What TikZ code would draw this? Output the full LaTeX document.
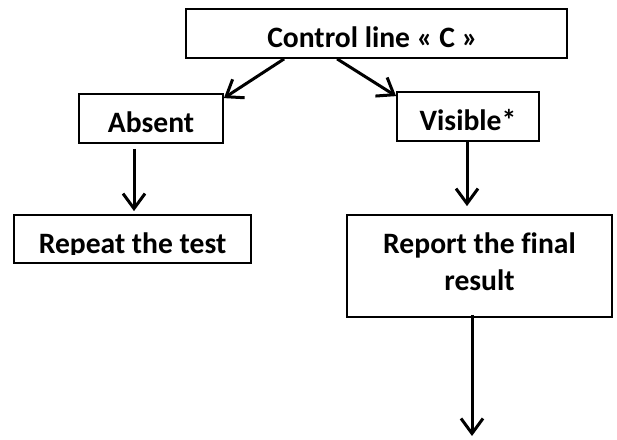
\documentclass[tikz,border=0pt]{standalone}
\usepackage{fontspec}
\setmainfont[Ligatures=NoCommon]{Carlito}
\usetikzlibrary{arrows.meta,calc}
\tikzset{
  box/.style={draw, line width=1.8pt, inner sep=0pt, font=\fontsize{29.6}{37}\selectfont\bfseries},
  oneline/.style={text height=28pt, text depth=0pt},
  arr/.style={line width=3pt, -{Straight Barb[length=15pt,width=22pt]}},
}
\begin{document}
\begin{tikzpicture}[x=1pt,y=-1pt]
\useasboundingbox (0,0) rectangle (617,439);
\node[box, oneline, text height=27pt, minimum width=381pt, minimum height=49pt] (top) at (376.5,33.5) {Control line «~C~»\hspace*{8pt}};
\node[box, oneline, minimum width=144pt, minimum height=49pt] (absent) at (151,118.5) {Absent};
\node[box, oneline, minimum width=142pt, minimum height=49pt] (visible) at (468,116.5) {Visible*};
\node[box, minimum width=237pt, minimum height=48pt] (repeat) at (132.5,239) {};
\begin{scope}
  \clip ($(repeat.north west)+(2,2)$) rectangle ($(repeat.south east)+(-2,-9)$);
  \node[box, draw=none, oneline, text height=29pt] (repeattxt) at (repeat) {Repeat the test};
\end{scope}
\node[box, align=center, minimum width=265pt, minimum height=102pt, text depth=8pt] (report) at (479.5,266) {Report the final\\result};
\coordinate (endpt) at (472,436);
\draw[arr] ($(top.south west)+(99,0)$) -- ($(absent.north east)+(0,5)$);
\draw[arr] ($(top.south west)+(152,0)$) -- ($(visible.north west)+(0,5)$);
\draw[arr] ($(absent.south)+(-17,5)$) -- ($(repeat.north)+(1.5,-3)$);
\draw[arr] ($(visible.south)+(-1,0)$) -- ($(visible.south |- report.north)+(-1,-8)$);
\draw[arr] ($(report.south)+(-7.5,-3)$) -- (endpt);
\end{tikzpicture}
\end{document}
